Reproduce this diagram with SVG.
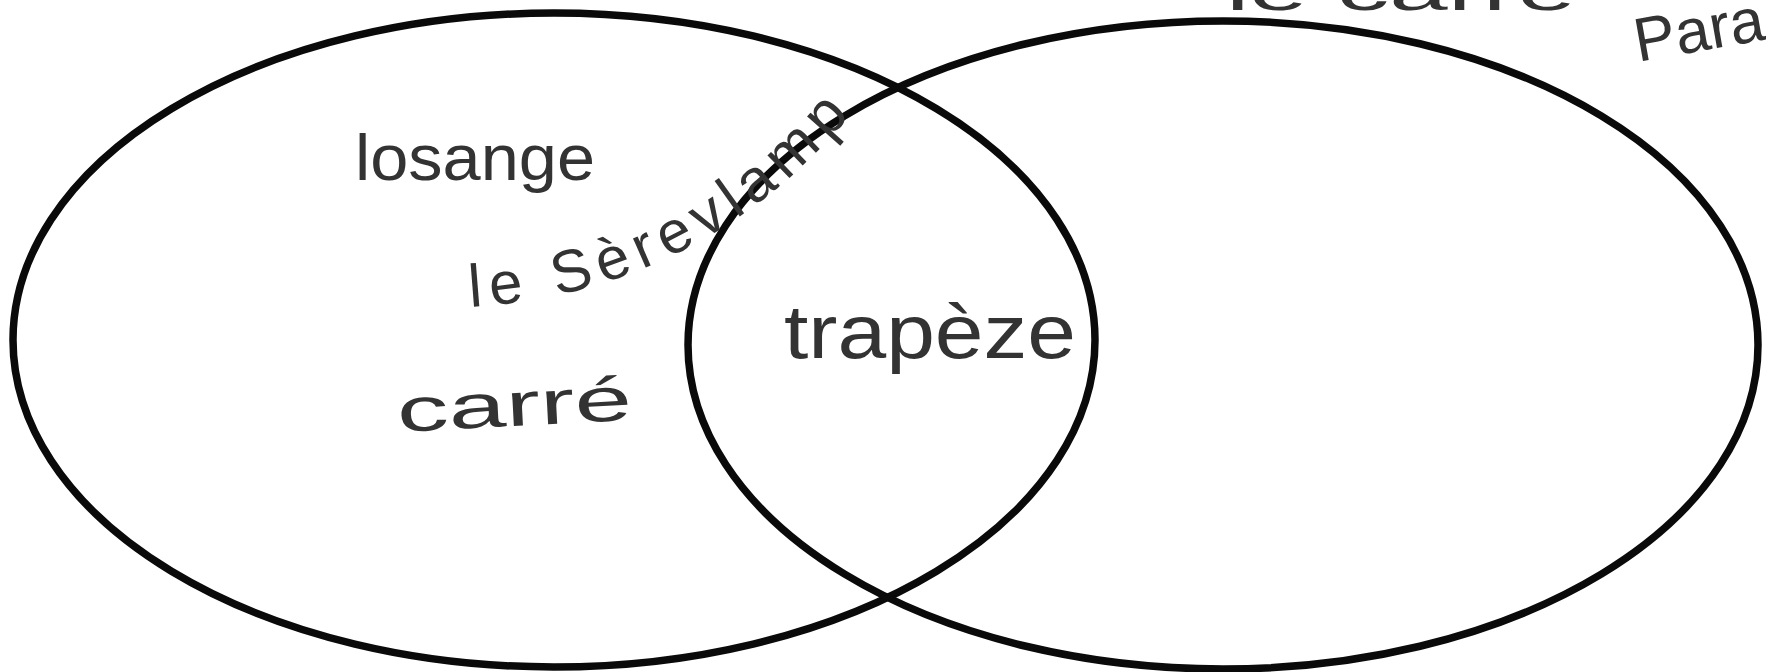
<svg xmlns="http://www.w3.org/2000/svg" width="1766" height="672" viewBox="0 0 1766 672">
  <style>
    .set { fill: none; stroke: #0a0a0a; stroke-width: 7.5; }
    .hand { font-family: "Liberation Sans", "DejaVu Sans", sans-serif; fill: #333333; font-weight: normal; }
  </style>
  <defs>
    <path id="arc" d="M470,307 Q712,292 866,96"/>
  </defs>
  <rect x="0" y="0" width="1766" height="672" fill="#ffffff"/>
  <g id="set-left">
    <ellipse class="set" cx="554" cy="340" rx="541" ry="327"/>
  </g>
  <g id="set-right">
    <ellipse class="set" cx="1223" cy="345" rx="535" ry="324"/>
  </g>
  <g id="labels">
    <text id="losange" class="hand" x="355" y="180" font-size="64" textLength="240" lengthAdjust="spacingAndGlyphs">losange</text>
    <text id="serevlamp" class="hand" font-size="60" letter-spacing="8"><textPath href="#arc">le Sèrevlamp</textPath></text>
    <text id="carre" class="hand" x="398" y="432" font-size="62" textLength="235" lengthAdjust="spacingAndGlyphs" transform="rotate(-3 398 432)">carré</text>
    <text id="trapeze" class="hand" x="784" y="358" font-size="76" textLength="292" lengthAdjust="spacingAndGlyphs">trapèze</text>
    <text id="top-carre" class="hand" x="1226" y="10" font-size="56" textLength="350" lengthAdjust="spacingAndGlyphs">le carré</text>
    <text id="para" class="hand" x="1638" y="62" font-size="62" transform="rotate(-10 1638 62)">Para</text>
  </g>
</svg>
